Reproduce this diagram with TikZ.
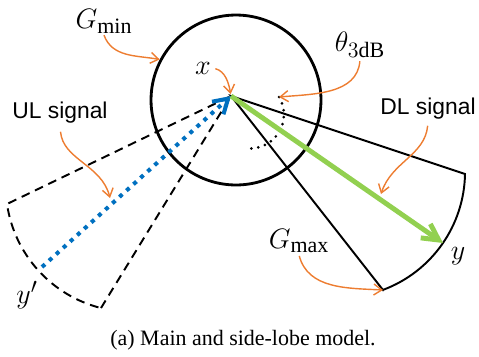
\RequirePackage{fix-cm}
\documentclass[tikz,border=0pt]{standalone}
\usepackage{fontspec}
\setmainfont{Liberation Serif}
\setsansfont{Liberation Sans}
\usetikzlibrary{arrows.meta,calc}
\DeclareMathSizes{16}{16}{12.5}{9.5}
\definecolor{colul}{RGB}{0,112,192}
\definecolor{coldl}{RGB}{146,208,80}
\definecolor{colnote}{RGB}{237,125,49}
\tikzset{
  >={Straight Barb[length=1.6mm, width=2.2mm]},
  beam dl/.style={line width=1.1pt, line join=miter},
  beam ul/.style={line width=1.1pt, dash pattern=on 5pt off 3.4pt},
  sig ul/.style={colul, line width=2.3pt, dash pattern=on 2.3pt off 3.1pt,
                 -{Straight Barb[length=2.8mm, width=3.4mm]}},
  sig dl/.style={coldl, line width=2.8pt,
                 -{Straight Barb[length=3.2mm, width=3.4mm]}},
  angle arc/.style={line width=1.7pt, line cap=round, dash pattern=on 0pt off 4pt},
  note/.style={colnote, line width=0.8pt, ->},
  lbl/.style={inner sep=1pt, font=\fontsize{16}{18}\selectfont},
  sig lbl/.style={inner sep=1pt, font=\sffamily\fontsize{13}{15}\selectfont},
}
\begin{document}
\begin{tikzpicture}[x=0.02cm, y=0.02cm]
  \useasboundingbox (0,0) rectangle (479,-356);

  % ---- cell and the beam corners
  \node[circle, draw, line width=1.6pt, minimum size=3.4cm, inner sep=0] (cell) at (236,-100) {};
  \coordinate (x)   at (231,-96);
  \coordinate (dl1) at (465,-174);
  \coordinate (dl2) at (383,-290);
  \coordinate (ul1) at (7,-204);
  \coordinate (ul2) at (101,-308);
  \coordinate (y)   at (443,-243);
  \coordinate (yp)  at (42,-267);
  \coordinate (th)  at (279,-97);

  % ---- main lobe (DL) and side lobe (UL)
  \draw[beam dl] (dl2) -- (x) -- (dl1) arc[start angle=-1, end angle=-69.5, radius=126] -- cycle;
  \draw[beam ul] (ul2) -- (x) -- (ul1) arc[start angle=188.3, end angle=256, radius=126];
  \draw[angle arc] (th) arc[start angle=31, end angle=-95, radius=34];

  % ---- signals
  \draw[sig ul] (yp) -- (x);
  \draw[sig dl] (x) -- (y);

  % ---- labels
  \node[lbl] (Gmin)  at (104,-21)  {$G_{\min}$};
  \node[lbl] (xlab)  at (203,-68)  {$x$};
  \node[lbl] (thlab) at (360,-45)  {$\theta_{3\mathrm{dB}}$};
  \node[lbl] (Gmax)  at (299,-241) {$G_{\max}$};
  \node[lbl] (ylab)  at (458,-256) {$y$};
  \node[lbl] (yplab) at (27,-295)  {$y'$};
  \node[sig lbl] (ULlab) at (60,-113)  {UL signal};
  \node[sig lbl] (DLlab) at (428,-109) {DL signal};
  \node[inner sep=0, font=\fontsize{12.5}{14}\selectfont] (cap) at (243,-340) {(a) Main and side-lobe model.};

  % ---- pointers
  \coordinate (ulhit) at (110,-198);
  \coordinate (dlhit) at (381,-194);
  \draw[note] (Gmin.south) to[out=-70, in=170] (cell.152);
  \draw[note, shorten <=0.5mm, shorten >=0.4mm] (xlab.east) to[out=-15, in=100] (x);
  \draw[note, shorten <=0.3mm] (thlab.south) to[out=-95, in=5] (th);
  \draw[note, shorten <=1.2mm] (ULlab.south) to[out=-85, in=104] (ulhit);
  \draw[note, shorten <=0.8mm] (DLlab.south) to[out=-95, in=72] (dlhit);
  \draw[note, shorten <=0.2mm] (Gmax.south) to[out=-75, in=177] (dl2);

\end{tikzpicture}
\end{document}
